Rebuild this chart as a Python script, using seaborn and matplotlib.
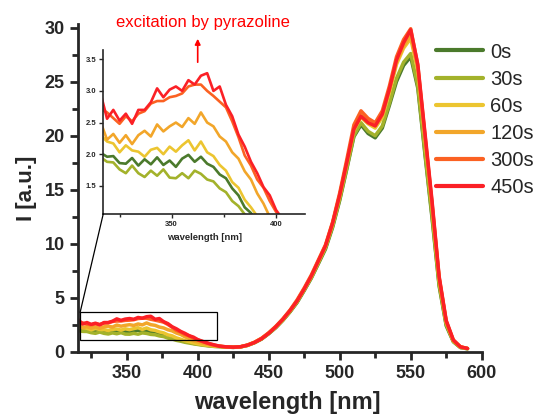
import matplotlib
matplotlib.use("Agg")
import matplotlib.pyplot as plt
from matplotlib.ticker import MultipleLocator
from matplotlib.patches import Rectangle, ConnectionPatch
import seaborn as sns
import pandas as pd

# ---------------- data ----------------
times = ["0s", "30s", "60s", "120s", "300s", "450s"]
colors = ["#4b7a2c", "#a3b22b", "#ecc530", "#f2a62a", "#fb6122", "#fb2026"]

wl_low = [316, 319, 322, 325, 328, 331, 334, 337, 340, 343, 346, 349, 352, 355, 358, 361,
          364, 367, 370, 373, 376, 379, 382, 385, 388, 391, 394, 397, 400, 403, 406, 409, 412]
wl_high = [415, 420, 425, 430, 435, 440, 445, 450, 455, 460, 465, 470, 475, 480, 485, 490,
           495, 500, 505, 510, 515, 520, 525, 530, 535, 540, 545, 550, 555, 560, 565, 570,
           575, 580, 585, 590]

low_0s = [2.02, 1.96, 1.97, 1.86, 1.85, 1.94, 1.82, 1.92, 1.84, 1.95, 1.83, 1.90, 1.80, 1.93, 1.99, 1.88,
          1.96, 1.85, 1.80, 1.68, 1.62, 1.46, 1.35, 1.16, 1.07, 0.94, 0.87, 0.77, 0.71, 0.65, 0.59, 0.54, 0.50]
low_30s = [1.95, 1.88, 1.87, 1.76, 1.70, 1.82, 1.70, 1.64, 1.74, 1.66, 1.76, 1.63, 1.62, 1.70, 1.62, 1.74,
           1.69, 1.60, 1.57, 1.46, 1.40, 1.26, 1.18, 1.05, 0.97, 0.87, 0.80, 0.73, 0.67, 0.61, 0.56, 0.52, 0.48]
low_60s = [2.30, 2.20, 2.17, 2.03, 2.14, 2.06, 2.04, 1.96, 2.07, 2.10, 2.00, 2.12, 2.04, 2.14, 2.22, 2.06,
           2.20, 2.03, 1.97, 1.83, 1.74, 1.56, 1.47, 1.28, 1.16, 1.02, 0.93, 0.82, 0.74, 0.67, 0.61, 0.56, 0.51]
low_120s = [2.50, 2.23, 2.32, 2.18, 2.30, 2.16, 2.30, 2.37, 2.28, 2.47, 2.36, 2.44, 2.50, 2.43, 2.57, 2.48,
            2.66, 2.50, 2.44, 2.28, 2.20, 2.03, 1.93, 1.73, 1.60, 1.38, 1.22, 1.01, 0.91, 0.80, 0.70, 0.62, 0.55]
low_300s = [2.72, 2.66, 2.57, 2.48, 2.60, 2.52, 2.64, 2.68, 2.80, 2.84, 2.84, 2.90, 2.92, 2.96, 3.07, 3.10,
            3.10, 3.00, 2.92, 2.83, 2.74, 2.52, 2.27, 1.98, 1.82, 1.60, 1.47, 1.26, 1.09, 0.95, 0.82, 0.70, 0.60]
low_450s = [2.95, 2.56, 2.70, 2.53, 2.64, 2.48, 2.70, 2.70, 2.82, 3.04, 2.90, 3.02, 3.07, 3.00, 3.17, 3.10,
            3.24, 3.28, 3.00, 3.07, 2.78, 2.60, 2.31, 2.12, 1.88, 1.70, 1.48, 1.35, 1.12, 0.98, 0.84, 0.72, 0.62]

high_0s = [0.48, 0.43, 0.40, 0.44, 0.58, 0.83, 1.17, 1.66, 2.22, 2.90, 3.68, 4.55, 5.65, 6.80, 8.15, 9.50,
           11.5, 14.0, 16.9, 19.9, 21.0, 20.2, 19.8, 20.7, 22.8, 25.0, 26.5, 27.3, 24.4, 18.3, 12.4, 6.1,
           2.4, 0.92, 0.38, 0.27]
high_30s = [0.48, 0.43, 0.40, 0.44, 0.58, 0.84, 1.18, 1.68, 2.25, 2.92, 3.70, 4.60, 5.70, 6.85, 8.20, 9.60,
            11.6, 14.1, 17.0, 20.0, 21.2, 20.4, 20.0, 20.9, 23.0, 25.3, 26.8, 27.6, 24.6, 18.5, 12.6, 6.2,
            2.5, 0.95, 0.40, 0.28]
high_60s = [0.49, 0.44, 0.41, 0.45, 0.60, 0.86, 1.22, 1.72, 2.30, 2.98, 3.78, 4.68, 5.78, 6.95, 8.35, 9.75,
            11.8, 14.4, 17.4, 20.5, 21.7, 21.1, 20.7, 21.7, 24.0, 26.6, 28.1, 29.0, 26.0, 19.7, 13.5, 6.7,
            2.7, 1.00, 0.42, 0.30]
high_120s = [0.50, 0.44, 0.41, 0.45, 0.60, 0.86, 1.22, 1.72, 2.32, 3.00, 3.80, 4.70, 5.80, 7.00, 8.40, 9.80,
             11.9, 14.5, 17.5, 20.6, 21.9, 21.3, 20.9, 21.9, 24.2, 26.8, 28.3, 29.3, 26.2, 19.9, 13.6, 6.8,
             2.8, 1.05, 0.45, 0.30]
high_300s = [0.52, 0.45, 0.42, 0.46, 0.62, 0.88, 1.25, 1.75, 2.35, 3.05, 3.85, 4.80, 5.90, 7.10, 8.50, 9.90,
             12.0, 14.7, 17.8, 21.0, 22.3, 21.6, 21.2, 22.3, 24.6, 27.3, 28.9, 29.9, 26.5, 20.1, 13.8, 6.9,
             2.8, 1.05, 0.45, 0.30]
high_450s = [0.52, 0.45, 0.42, 0.45, 0.60, 0.85, 1.20, 1.70, 2.30, 3.00, 3.80, 4.70, 5.80, 7.00, 8.40, 9.80,
             11.9, 14.5, 17.5, 20.6, 21.8, 21.2, 20.9, 22.0, 24.3, 27.0, 28.6, 29.8, 26.6, 20.3, 14.0, 7.0,
             2.9, 1.10, 0.45, 0.30]

lows = [low_0s, low_30s, low_60s, low_120s, low_300s, low_450s]
highs = [high_0s, high_30s, high_60s, high_120s, high_300s, high_450s]

rows = []
for t, lo, hi in zip(times, lows, highs):
    for w, v in zip(wl_low + wl_high, lo + hi):
        rows.append({"wavelength": w, "I": v, "time": t})
df = pd.DataFrame(rows)
df_inset = df[df["wavelength"] <= 415]

# ---------------- style ----------------
sns.set_style("ticks")
plt.rcParams["font.family"] = ["Liberation Sans", "DejaVu Sans"]
plt.rcParams["axes.linewidth"] = 2.0

fig = plt.figure(figsize=(5.39, 4.15), dpi=100)
W, H = 539, 415
ax = fig.add_axes([77.7 / W, 1 - 351.7 / H, 404 / W, 327.3 / H])

sns.lineplot(data=df, x="wavelength", y="I", hue="time", hue_order=times,
             palette=colors, lw=2.5, ax=ax, sort=True)

ax.set_xlim(315.5, 600)
ax.set_ylim(0, 30.3)
ax.xaxis.set_minor_locator(MultipleLocator(25))
ax.yaxis.set_major_locator(MultipleLocator(5))
ax.yaxis.set_minor_locator(MultipleLocator(2.5))
ax.set_xticks([350, 400, 450, 500, 550, 600])
ax.tick_params(which="major", direction="out", length=6, width=2, labelsize=13)
ax.tick_params(which="minor", direction="out", length=4, width=2)
for lab in ax.get_xticklabels() + ax.get_yticklabels():
    lab.set_fontweight("bold")
for s in ["top", "right"]:
    ax.spines[s].set_visible(False)

ax.set_xlabel("wavelength [nm]", fontsize=17, fontweight="bold")
ax.set_ylabel("I [a.u.]", fontsize=16, fontweight="bold")
ax.xaxis.set_label_coords(0.518, -0.12)
ax.yaxis.set_label_coords(-0.1, 0.5)

# legend
handles, labels = ax.get_legend_handles_labels()
ax.get_legend().remove()
for h in handles:
    h.set_linewidth(3)
fig.legend(handles, labels, loc="upper left", bbox_to_anchor=(436 / W, 1 - 42.5 / H),
           frameon=False, fontsize=14.5, handlelength=2.35, handletextpad=0.35,
           labelspacing=0.4, borderpad=0, borderaxespad=0)

# zoom box
x0, x1, y0, y1 = 317.2, 413.9, 1.06, 3.64
ax.add_patch(Rectangle((x0, y0), x1 - x0, y1 - y0, fill=False, ec="black", lw=0.9, zorder=5))

# inset
axi = fig.add_axes([103.3 / W, 1 - 213.7 / H, 201.7 / W, 163.3 / H])
sns.lineplot(data=df_inset, x="wavelength", y="I", hue="time", hue_order=times,
             palette=colors, lw=1.9, ax=axi, legend=False)
axi.set_xlim(x0, x1)
axi.set_ylim(y0, y1)
axi.xaxis.set_major_locator(MultipleLocator(50))
axi.xaxis.set_minor_locator(MultipleLocator(25))
axi.yaxis.set_major_locator(MultipleLocator(0.5))
for s in ["top", "right"]:
    axi.spines[s].set_visible(False)
for s in ["left", "bottom"]:
    axi.spines[s].set_linewidth(1.2)
axi.tick_params(which="major", direction="out", length=3, width=1, labelsize=5.5, pad=2)
axi.tick_params(which="minor", direction="out", length=2, width=1)
for lab in axi.get_xticklabels() + axi.get_yticklabels():
    lab.set_fontweight("bold")
axi.set_xlabel("wavelength [nm]", fontsize=6.8, fontweight="bold", labelpad=4)
axi.set_ylabel("")
axi.set_facecolor("none")

con = ConnectionPatch(xyA=(x0, y1), coordsA=ax.transData, xyB=(0, 0), coordsB=axi.transAxes,
                      color="black", lw=0.9)
fig.add_artist(con)

# annotation
fig.text(203 / W, 1 - 22 / H, "excitation by pyrazoline", color="red", fontsize=12,
         ha="center", va="center")
ax.annotate("", xy=(197.7 / W, 1 - 36 / H), xytext=(197.7 / W, 1 - 65 / H),
            xycoords="figure fraction", textcoords="figure fraction",
            arrowprops=dict(arrowstyle="-|>", color="red", lw=1.2, mutation_scale=8))

fig.savefig("out.png", dpi=100)
